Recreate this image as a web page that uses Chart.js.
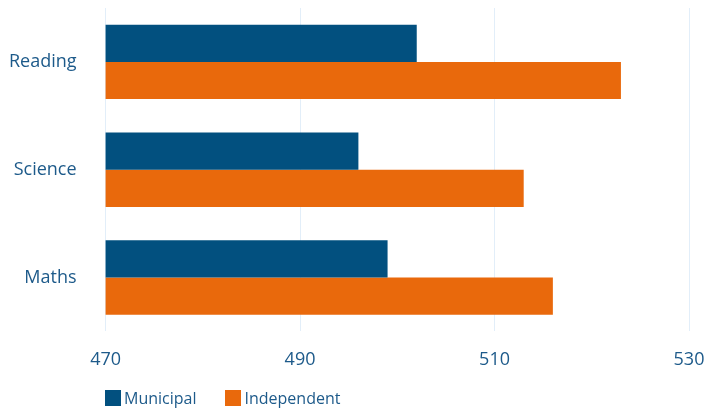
<!DOCTYPE html>
<html>
<head>
<meta charset="utf-8">
<script src="https://cdn.jsdelivr.net/npm/chart.js@4/dist/chart.umd.min.js"></script>
<style>
  html, body { margin: 0; padding: 0; background: #fff; }
  #wrap { position: relative; width: 708px; height: 408px; }
  #legend {
    position: absolute; left: 105px; top: 387px;
    display: flex; font: 16px "Open Sans", sans-serif; color: #1d5a8a;
  }
  #legend .item { display: flex; align-items: center; margin-right: 29px; }
  #legend .box { width: 16px; height: 16px; margin-right: 3px; }
</style>
</head>
<body>
<div id="wrap">
  <canvas id="chart" width="708" height="408"></canvas>
  <div id="legend"></div>
</div>
<script>
const subjects = ['Reading', 'Science', 'Maths'];
const municipal = [502, 496, 499];
const independent = [523, 513, 516];
const xTicks = [470, 490, 510, 530];

const blue = '#02507f';
const orange = '#e9690c';
const textColor = '#1d5a8a';

const series = [
  { label: 'Municipal', data: municipal, color: blue },
  { label: 'Independent', data: independent, color: orange }
];

// legend sits under the plot, aligned with the chart area
document.getElementById('legend').innerHTML = series.map(s =>
  `<div class="item"><span class="box" style="background:${s.color}"></span>${s.label}</div>`
).join('');

// drop the label-overhang padding scales add, so layout.padding decides the plot edges
const noEdgePadding = axis => {
  axis.paddingTop = 0;
  axis.paddingBottom = 0;
  axis.paddingLeft = 0;
  axis.paddingRight = 0;
};

const tickFont = { family: 'Open Sans', size: 18 };

new Chart(document.getElementById('chart'), {
  type: 'bar',
  data: {
    labels: subjects,
    datasets: series.map(s => ({
      label: s.label,
      data: s.data,
      backgroundColor: s.color,
      borderWidth: 0,
      categoryPercentage: 0.69,
      barPercentage: 1
    }))
  },
  options: {
    indexAxis: 'y',
    responsive: false,
    animation: false,
    layout: { padding: { left: 9, top: 8, right: 19, bottom: 37 } },
    plugins: {
      legend: { display: false },
      tooltip: { enabled: false }
    },
    scales: {
      x: {
        min: xTicks[0],
        max: xTicks[xTicks.length - 1],
        afterBuildTicks: axis => { axis.ticks = xTicks.map(v => ({ value: v })); },
        afterFit: noEdgePadding,
        // invisible tick marks give the gap between plot and labels
        grid: { color: '#e2eef9', lineWidth: 1, drawTicks: true, tickLength: 18, tickColor: 'rgba(0,0,0,0)' },
        border: { display: false },
        ticks: { padding: 0, color: textColor, font: tickFont }
      },
      y: {
        afterFit: noEdgePadding,
        grid: { display: false, drawTicks: true, tickLength: 29 },
        border: { display: false },
        ticks: { padding: 0, color: textColor, font: tickFont }
      }
    }
  }
});
</script>
</body>
</html>
